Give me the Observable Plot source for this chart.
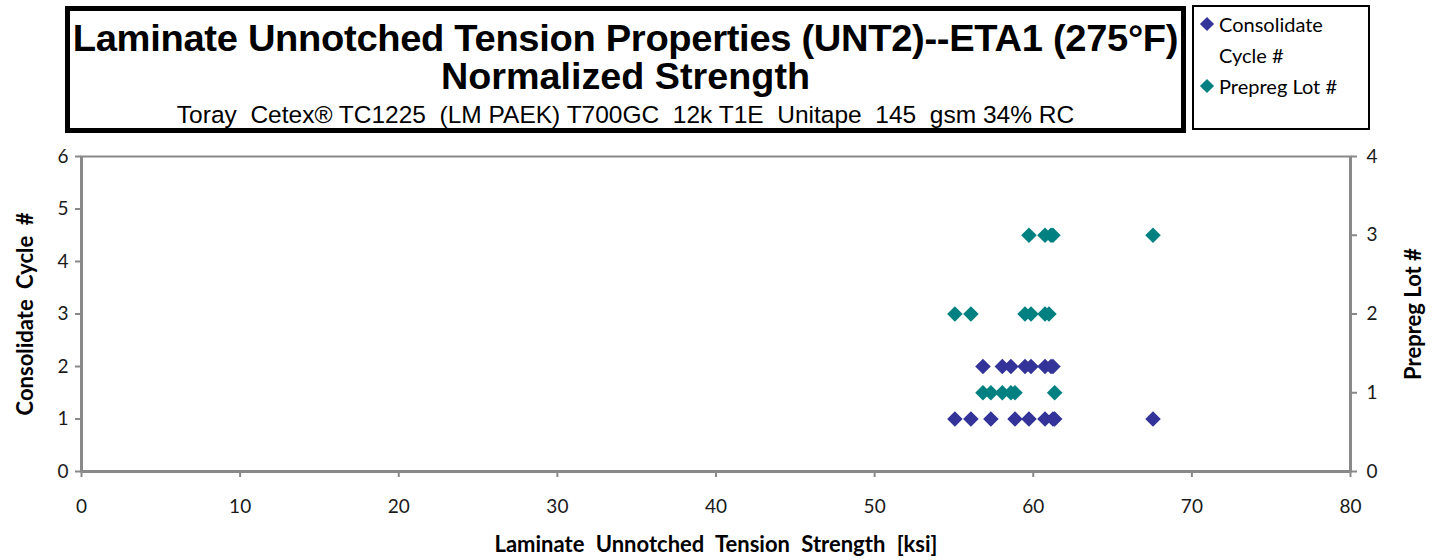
<!DOCTYPE html>
<html><head><meta charset="utf-8">
<script src="https://cdn.jsdelivr.net/npm/d3@7"></script>
<script src="https://cdn.jsdelivr.net/npm/@observablehq/plot@0.6"></script>
<style>
body{margin:0;background:#fff;width:1433px;height:560px;overflow:hidden;position:relative;font-family:Lato,"Open Sans",sans-serif;}
#title{position:absolute;left:65px;top:6px;width:1111px;height:117px;border:5px solid #000;text-align:center;font-family:"Liberation Sans",Arial,sans-serif;color:#000;overflow:hidden;}
.ln{white-space:nowrap;display:block;transform-origin:center;}
#t1{font-size:37px;font-weight:bold;line-height:38px;margin-top:9px;transform:scaleX(1.03);letter-spacing:-0.3px;}
#t2{font-size:37px;font-weight:bold;line-height:38px;transform:scaleX(1.02);}
#t3{font-size:24.5px;line-height:30px;margin-top:4px;}
#legend{position:absolute;left:1192px;top:5px;width:174px;height:121px;border:2px solid #000;font-family:Lato,sans-serif;font-size:20px;line-height:31px;}
.li{position:relative;padding-left:25px;}
.sym{position:absolute;left:8px;top:10px;width:10px;height:10px;transform:rotate(45deg);}
#chart{position:absolute;left:0;top:135px;}
</style></head><body>
<div id="title"><span class="ln" id="t1">Laminate Unnotched Tension Properties (UNT2)--ETA1 (275°F)</span><span class="ln" id="t2">Normalized Strength</span><span class="ln" id="t3">Toray&nbsp; Cetex® TC1225&nbsp; (LM PAEK) T700GC&nbsp; 12k T1E&nbsp; Unitape&nbsp; 145&nbsp; gsm 34% RC</span></div>
<div id="legend"><div class="li" style="margin-top:2px"><span class="sym" style="background:#333399"></span>Consolidate<br>Cycle #</div><div class="li"><span class="sym" style="background:#008080"></span>Prepreg Lot #</div></div>
<div id="chart"></div>
<script>
const cycleStrength = [55.06, 56.07, 57.33, 58.85, 59.73, 60.74, 61.24, 61.35, 67.55, 56.83, 58.05, 58.59, 59.48, 59.86, 60.74, 61.12, 61.24];
const cycleValue    = [1, 1, 1, 1, 1, 1, 1, 1, 1, 2, 2, 2, 2, 2, 2, 2, 2];
const lotStrength = [56.83, 57.33, 58.05, 58.59, 58.85, 61.35, 55.06, 56.07, 59.48, 59.86, 60.74, 60.99, 59.73, 60.74, 61.12, 61.24, 67.55];
const lotValue    = [1, 1, 1, 1, 1, 1, 2, 2, 2, 2, 2, 2, 3, 3, 3, 3, 3];
const xTicks = [0, 10, 20, 30, 40, 50, 60, 70, 80];
const leftTicks = [0, 1, 2, 3, 4, 5, 6];
const rightTicks = [0, 1, 2, 3, 4];
const leftMax = 6, rightMax = 4;
const k = leftMax / rightMax;

const cycleData = cycleStrength.map((s, i) => ({x: s, y: cycleValue[i]}));
const lotData = lotStrength.map((s, i) => ({x: s, y: lotValue[i] * k}));
const grey = "#898989";

const chart = Plot.plot({
  width: 1433, height: 425,
  marginTop: 21, marginBottom: 89, marginLeft: 81, marginRight: 83,
  style: {fontFamily: "Lato, 'Open Sans', sans-serif", fontSize: "19px", color: "#1a1a1a", background: "white"},
  x: {domain: [0, 80]},
  y: {domain: [0, leftMax]},
  marks: [
    Plot.frame({stroke: grey, strokeWidth: 2}),
    Plot.ruleX([0, 80], {stroke: grey, strokeWidth: 3}),
    Plot.ruleY([0], {stroke: grey, strokeWidth: 3}),
    Plot.axisX({ticks: xTicks, tickFormat: d3.format("d"), tickSize: 6, tickPadding: 22, stroke: grey, strokeWidth: 2, label: null, fontSize: 19}),
    Plot.axisY({ticks: leftTicks, tickFormat: d3.format("d"), tickSize: 6, tickPadding: 7, stroke: grey, strokeWidth: 2, label: null, fontSize: 19}),
    Plot.axisY({anchor: "right", ticks: rightTicks.map(d => d * k), tickFormat: d => Math.round(d / k), tickSize: 6, tickPadding: 10, stroke: grey, strokeWidth: 2, label: null, fontSize: 19}),
    Plot.dot(lotData, {x: "x", y: "y", symbol: "diamond2", r: 7, fill: "#008080", stroke: null}),
    Plot.dot(cycleData, {x: "x", y: "y", symbol: "diamond2", r: 7, fill: "#333399", stroke: null}),
    Plot.text(["Laminate Unnotched Tension Strength [ksi]"], {frameAnchor: "bottom", dy: 80, fontWeight: "bold", fontSize: 22, fill: "#000", textAnchor: "middle"}),
    Plot.text(["Consolidate Cycle #"], {frameAnchor: "left", dx: -56, rotate: -90, textAnchor: "middle", fontWeight: "bold", fontSize: 22, fill: "#000"}),
    Plot.text(["Prepreg Lot #"], {frameAnchor: "right", dx: 63, rotate: -90, textAnchor: "middle", fontWeight: "bold", fontSize: 22, fill: "#000"})
  ]
});
chart.querySelectorAll("text").forEach(t => {
  if (/Laminate/.test(t.textContent)) t.style.wordSpacing = "6px";
  else if (/Consolidate/.test(t.textContent)) t.style.wordSpacing = "5px";
});
document.getElementById("chart").appendChild(chart);
</script>
</body></html>
